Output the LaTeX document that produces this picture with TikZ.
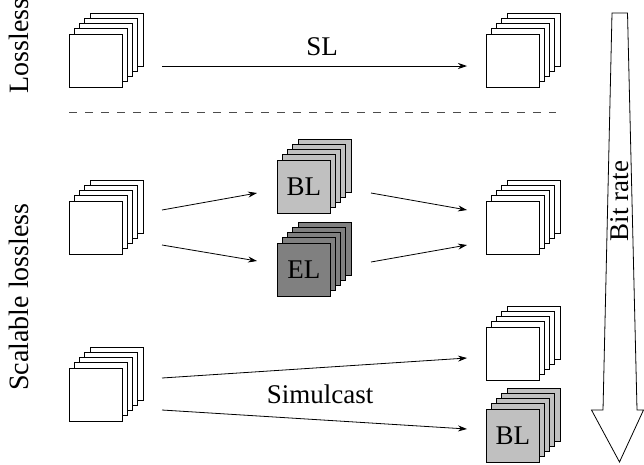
\documentclass[tikz,border=0pt]{standalone}
\usepackage{fontspec}
\setmainfont{Liberation Serif}
\usetikzlibrary{arrows.meta}
\definecolor{blgray}{HTML}{C0C0C0}
\definecolor{elgray}{HTML}{808080}
\tikzset{
  frame/.style={draw=black, line width=0.8pt, fill=#1},
  frontframe/.style={draw=black, line width=0.8pt, fill=#1, minimum size=53pt, inner sep=0pt, anchor=north west, font=\fontsize{27}{31}\selectfont},
  flow/.style={line width=0.8pt, -{Stealth[length=9pt,width=6pt]}},
  biglbl/.style={font=\fontsize{27}{31}\selectfont, inner sep=0pt},
  sidelbl/.style={font=\fontsize{28}{32}\selectfont, inner sep=0pt, rotate=90},
}
% #1 name, #2 x, #3 y (top-left of front square), #4 fill, #5 label
\newcommand\framestack[5]{%
  \foreach \i in {4,3,2,1} {
    \draw[frame=#4] (#2+\i*5.25, #3-\i*5.25) rectangle +(53,53);
  }
  \node[frontframe=#4] (#1) at (#2,#3) {#5};
}
\begin{document}
\begin{tikzpicture}[x=1pt,y=-1pt]
\useasboundingbox (0,0) rectangle (644,464);
% stacks
\framestack{inA}{69}{34}{white}{}
\framestack{outA}{486}{34}{white}{}
\framestack{inB}{69}{201}{white}{}
\framestack{bl}{277}{160}{blgray}{BL}
\framestack{el}{277}{243}{elgray}{EL}
\framestack{outB}{486}{201}{white}{}
\framestack{inC}{69}{368}{white}{}
\framestack{outC}{486}{327}{white}{}
\framestack{blC}{486}{409}{blgray}{BL}
% connector end points
\coordinate (a1) at (162,66);
\coordinate (a2) at (467,66);
\coordinate (b1) at (162,210);
\coordinate (b2) at (257,193);
\coordinate (b3) at (162,245);
\coordinate (b4) at (257,261);
\coordinate (b5) at (371,193);
\coordinate (b6) at (467,210);
\coordinate (b7) at (371,262);
\coordinate (b8) at (467,245);
\coordinate (c1) at (162,378);
\coordinate (c2) at (467,358);
\coordinate (c3) at (162,410);
\coordinate (c4) at (467,429);
\draw[flow] (a1) -- (a2);
\draw[flow] (b1) -- (b2);
\draw[flow] (b3) -- (b4);
\draw[flow] (b5) -- (b6);
\draw[flow] (b7) -- (b8);
\draw[flow] (c1) -- (c2);
\draw[flow] (c3) -- (c4);
% labels
\node[biglbl] (sl) at (322,47) {SL};
\node[biglbl] (sim) at (320,394) {Simulcast};
\node[sidelbl] (lossless) at (19,46) {Lossless};
\node[sidelbl] (scal) at (19,297) {Scalable lossless};
% dashed separator
\coordinate (d1) at (69,112);
\coordinate (d2) at (556,112);
\draw[line width=0.8pt, black!70, dash pattern=on 8pt off 8pt] (d1) -- (d2);
% bit rate arrow
\draw[line width=0.8pt, fill=white] (612,13) -- (627.5,13) -- (637,410) -- (643.5,410) -- (619.5,462) -- (591.5,410) -- (603,410) -- cycle;
\node[biglbl, rotate=90] (bitrate) at (620,201) {Bit rate};
\end{tikzpicture}
\end{document}
